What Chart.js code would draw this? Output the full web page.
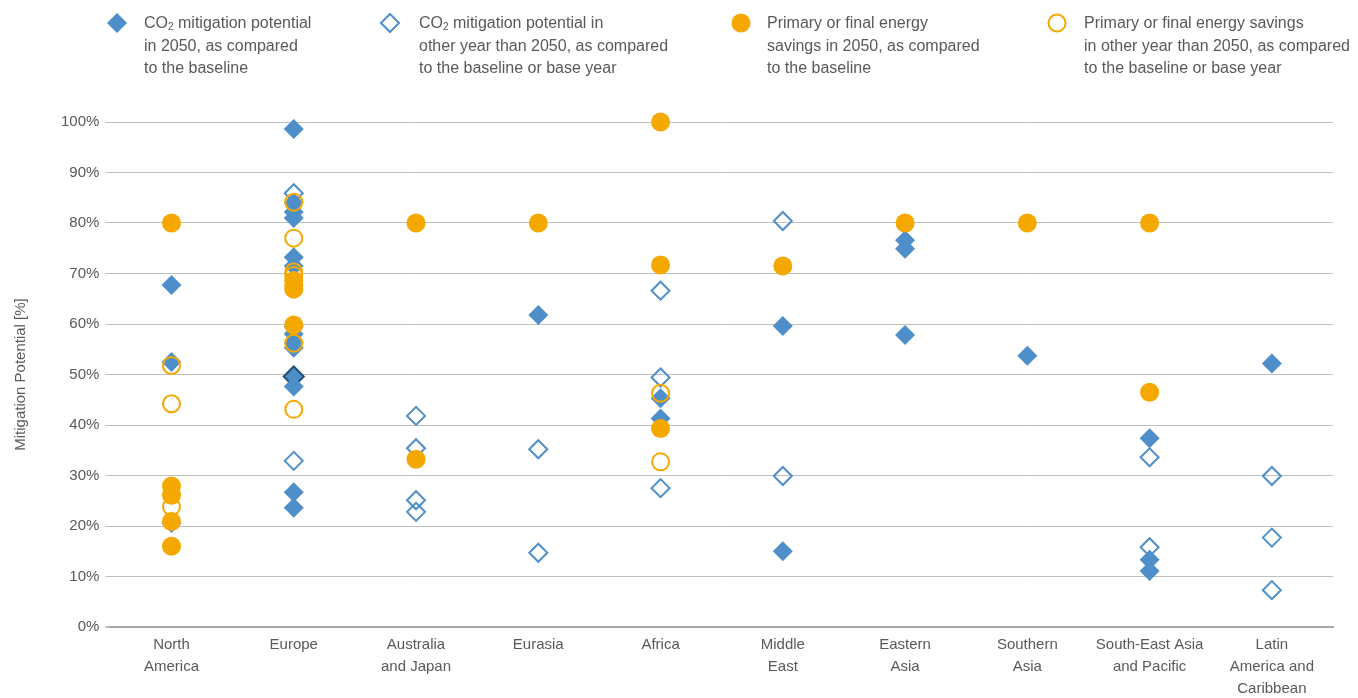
<!DOCTYPE html>
<html>
<head>
<meta charset="utf-8">
<script src="https://cdn.jsdelivr.net/npm/chart.js@4"></script>
<style>
    body { margin: 0; background: #fff; }
    #wrap { position: absolute; left: 0; top: 0; width: 1358px; height: 698px; }
    .leg { position: absolute; top: 12px; font: 16px "Liberation Sans", Arial, sans-serif; color: #595959; line-height: 22.5px; }
    .leg sub { font-size: 10px; line-height: 0; vertical-align: -2px; }
    .mk { position: absolute; }
</style>
</head>
<body>
<div id="wrap">
    <canvas id="chart" width="1358" height="698"></canvas>
</div>
<svg class="mk" style="left:105px;top:11px" width="24" height="24"><polygon points="12,2 22,12 12,22 2,12" fill="#4F8FC9"/></svg>
<div class="leg" style="left:144px">CO<sub>2</sub> mitigation potential<br>in 2050, as compared<br>to the baseline</div>
<svg class="mk" style="left:378px;top:11px" width="24" height="24"><polygon points="12,3 21,12 12,21 3,12" fill="none" stroke="#4F8FC9" stroke-width="2"/></svg>
<div class="leg" style="left:419px">CO<sub>2</sub> mitigation potential in<br>other year than 2050, as compared<br>to the baseline or base year</div>
<svg class="mk" style="left:729px;top:11px" width="24" height="24"><circle cx="12" cy="12" r="9.5" fill="#F5A800"/></svg>
<div class="leg" style="left:767px">Primary or final energy<br>savings in 2050, as compared<br>to the baseline</div>
<svg class="mk" style="left:1045px;top:11px" width="24" height="24"><circle cx="12" cy="12" r="8.5" fill="none" stroke="#F5A800" stroke-width="2"/></svg>
<div class="leg" style="left:1084px">Primary or final energy savings<br>in other year than 2050, as compared<br>to the baseline or base year</div>

<script>
// regions along the x axis
const regions = ['North America', 'Europe', 'Australia and Japan', 'Eurasia', 'Africa',
    'Middle East', 'Eastern Asia', 'Southern Asia', 'South-East Asia and Pacific', 'Latin America and Caribbean'];
const regionLabels = [['North', 'America'], ['Europe'], ['Australia', 'and Japan'], ['Eurasia'], ['Africa'],
    ['Middle', 'East'], ['Eastern', 'Asia'], ['Southern', 'Asia'], ['South-East Asia', 'and Pacific'], ['Latin', 'America and', 'Caribbean']];

// values in %, one list per region (same order as regions)
const co2In2050 = [
    [67.7, 52.5, 20.6],
    [98.6, 84.0, 82.2, 81.0, 73.2, 71.5, 59.5, 58.0, 56.3, 55.3, 49.6, 47.6, 26.7, 23.6],
    [],
    [61.8],
    [45.3, 41.3],
    [59.6, 15.0],
    [76.6, 74.9, 57.8],
    [53.7],
    [37.4, 13.3, 11.1],
    [52.2]
];
const co2OtherYear = [
    [],
    [85.9, 32.9],
    [41.8, 35.4, 25.1, 22.8],
    [35.2, 14.7],
    [66.6, 49.4, 27.5],
    [80.4, 29.9],
    [],
    [],
    [33.6, 15.8],
    [29.9, 17.7, 7.3]
];
const energyIn2050 = [
    [80, 27.9, 26.1, 20.9, 16.0],
    [68.6, 67.6, 66.9, 59.8],
    [80, 33.2],
    [80],
    [100, 71.7, 39.3],
    [71.5],
    [80],
    [80],
    [80, 46.5],
    []
];
const energyOtherYear = [
    [51.8, 44.2, 23.8],
    [84.1, 77.0, 70.3, 69.6, 56.2, 43.1],
    [],
    [],
    [46.3, 32.7],
    [],
    [],
    [],
    [],
    []
];

const BLUE = '#4F8FC9';
const ORANGE = '#F5A800';
const TEXT = '#595959';

function toPoints(list) {
    const pts = [];
    list.forEach((vals, i) => vals.forEach(v => pts.push({ x: regions[i], y: v })));
    return pts;
}

const co2Pts = toPoints(co2In2050);
// one Europe point is drawn with a dark outline
const isDark = p => p.x === 'Europe' && p.y === 49.6;

const ctx = document.getElementById('chart').getContext('2d');
const chart = new Chart(ctx, {
    type: 'line',
    data: {
        labels: regions,
        datasets: [
            {
                label: 'Energy savings, other year',
                data: toPoints(energyOtherYear),
                pointStyle: 'circle', pointRadius: 8.5, pointBorderWidth: 2,
                pointBackgroundColor: 'rgba(0,0,0,0)', pointBorderColor: ORANGE,
                showLine: false, clip: false, order: 1
            },
            {
                label: 'Energy savings 2050',
                data: toPoints(energyIn2050),
                pointStyle: 'circle', pointRadius: 9.5, pointBorderWidth: 0,
                pointBackgroundColor: ORANGE, pointBorderColor: ORANGE,
                showLine: false, clip: false, order: 2
            },
            {
                label: 'CO2 2050',
                data: co2Pts,
                pointStyle: 'rectRot', pointRadius: 10,
                pointBorderWidth: co2Pts.map(p => isDark(p) ? 2 : 0),
                pointBackgroundColor: BLUE,
                pointBorderColor: co2Pts.map(p => isDark(p) ? '#1F4E79' : BLUE),
                showLine: false, clip: false, order: 3
            },
            {
                label: 'CO2 other year',
                data: toPoints(co2OtherYear),
                pointStyle: 'rectRot', pointRadius: 9, pointBorderWidth: 2,
                pointBackgroundColor: 'rgba(0,0,0,0)', pointBorderColor: BLUE,
                showLine: false, clip: false, order: 4
            }
        ]
    },
    options: {
        responsive: false,
        animation: false,
        layout: { padding: { top: 122, right: 25, bottom: 0, left: 12 } },
        plugins: {
            legend: { display: false },
            tooltip: { enabled: false }
        },
        scales: {
            x: {
                type: 'category',
                offset: true,
                grid: { display: false, drawTicks: false, tickLength: 0 },
                border: { display: true, color: '#A6A6A6', width: 2 },
                ticks: {
                    color: TEXT,
                    font: { family: 'Liberation Sans', size: 15, lineHeight: 1.45 },
                    maxRotation: 0, autoSkip: false, padding: 7,
                    callback: (v, i) => regionLabels[i]
                },
                afterFit: s => { s.height = 71; }
            },
            y: {
                min: 0, max: 100,
                border: { display: false },
                grid: {
                    color: '#BFBFBF',
                    lineWidth: c => c.tick && c.tick.value === 0 ? 2 : 1,
                    tickLength: 5
                },
                ticks: {
                    stepSize: 10,
                    color: TEXT,
                    font: { family: 'Liberation Sans', size: 15 },
                    padding: 6,
                    callback: v => v + '%'
                },
                title: {
                    display: true,
                    text: 'Mitigation Potential [%]',
                    color: TEXT,
                    font: { family: 'Liberation Sans', size: 15 },
                    padding: { top: 0, bottom: 25 }
                }
            }
        }
    }
});
</script>
</body>
</html>
